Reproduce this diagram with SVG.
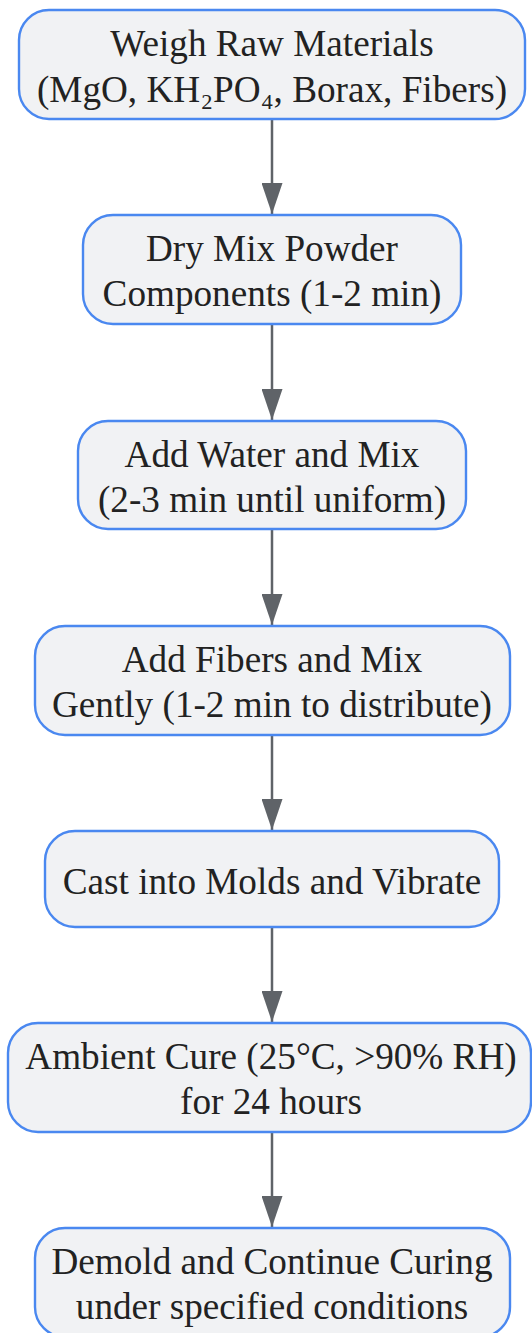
<svg xmlns="http://www.w3.org/2000/svg" width="532" height="1333" viewBox="0 0 532 1333">
<defs>
<marker id="arrow" markerUnits="userSpaceOnUse" markerWidth="31" markerHeight="21" refX="31" refY="10.5" orient="auto" viewBox="0 0 31 21">
<path d="M0,0 L31,10.5 L0,21 z" fill="#5f6368"/>
</marker>
<style>
.node rect { fill: #f1f2f4; stroke: #4a88f0; stroke-width: 2.4; }
.node text { font-family: "Liberation Serif", "Times New Roman", serif; font-size: 37.2px; fill: #222222; text-anchor: middle; }
.edge { stroke: #5f6368; stroke-width: 2.5; fill: none; marker-end: url(#arrow); }
</style>
</defs>
<rect width="532" height="1333" fill="#ffffff"/>
<g id="connectors">
<line class="edge" x1="272" y1="119" x2="272" y2="214"/>
<line class="edge" x1="272" y1="324" x2="272" y2="420"/>
<line class="edge" x1="272" y1="529" x2="272" y2="625"/>
<line class="edge" x1="272" y1="735" x2="272" y2="830"/>
<line class="edge" x1="272" y1="927" x2="272" y2="1022"/>
<line class="edge" x1="272" y1="1132" x2="272" y2="1227"/>
</g>
<g id="n1" class="node">
<rect x="19" y="10" width="506" height="109" rx="30" ry="30"/>
<text x="272" y="56">Weigh Raw Materials</text>
<text x="272" y="102">(MgO, KH₂PO₄, Borax, Fibers)</text>
</g>
<g id="n2" class="node">
<rect x="83" y="215" width="378" height="109" rx="30" ry="30"/>
<text x="272" y="261">Dry Mix Powder</text>
<text x="272" y="306">Components (1-2 min)</text>
</g>
<g id="n3" class="node">
<rect x="78" y="421" width="388" height="108" rx="30" ry="30"/>
<text x="272" y="467">Add Water and Mix</text>
<text x="272" y="512">(2-3 min until uniform)</text>
</g>
<g id="n4" class="node">
<rect x="35" y="626" width="475" height="109" rx="30" ry="30"/>
<text x="272" y="672">Add Fibers and Mix</text>
<text x="272" y="717">Gently (1-2 min to distribute)</text>
</g>
<g id="n5" class="node">
<rect x="45" y="831" width="454" height="96" rx="30" ry="30"/>
<text x="272" y="894">Cast into Molds and Vibrate</text>
</g>
<g id="n6" class="node">
<rect x="8" y="1023" width="523" height="109" rx="30" ry="30"/>
<text x="271" y="1069">Ambient Cure (25°C, &gt;90% RH)</text>
<text x="271" y="1114">for 24 hours</text>
</g>
<g id="n7" class="node">
<rect x="35" y="1228" width="475" height="109" rx="30" ry="30"/>
<text x="272" y="1274">Demold and Continue Curing</text>
<text x="272" y="1319">under specified conditions</text>
</g>
</svg>
